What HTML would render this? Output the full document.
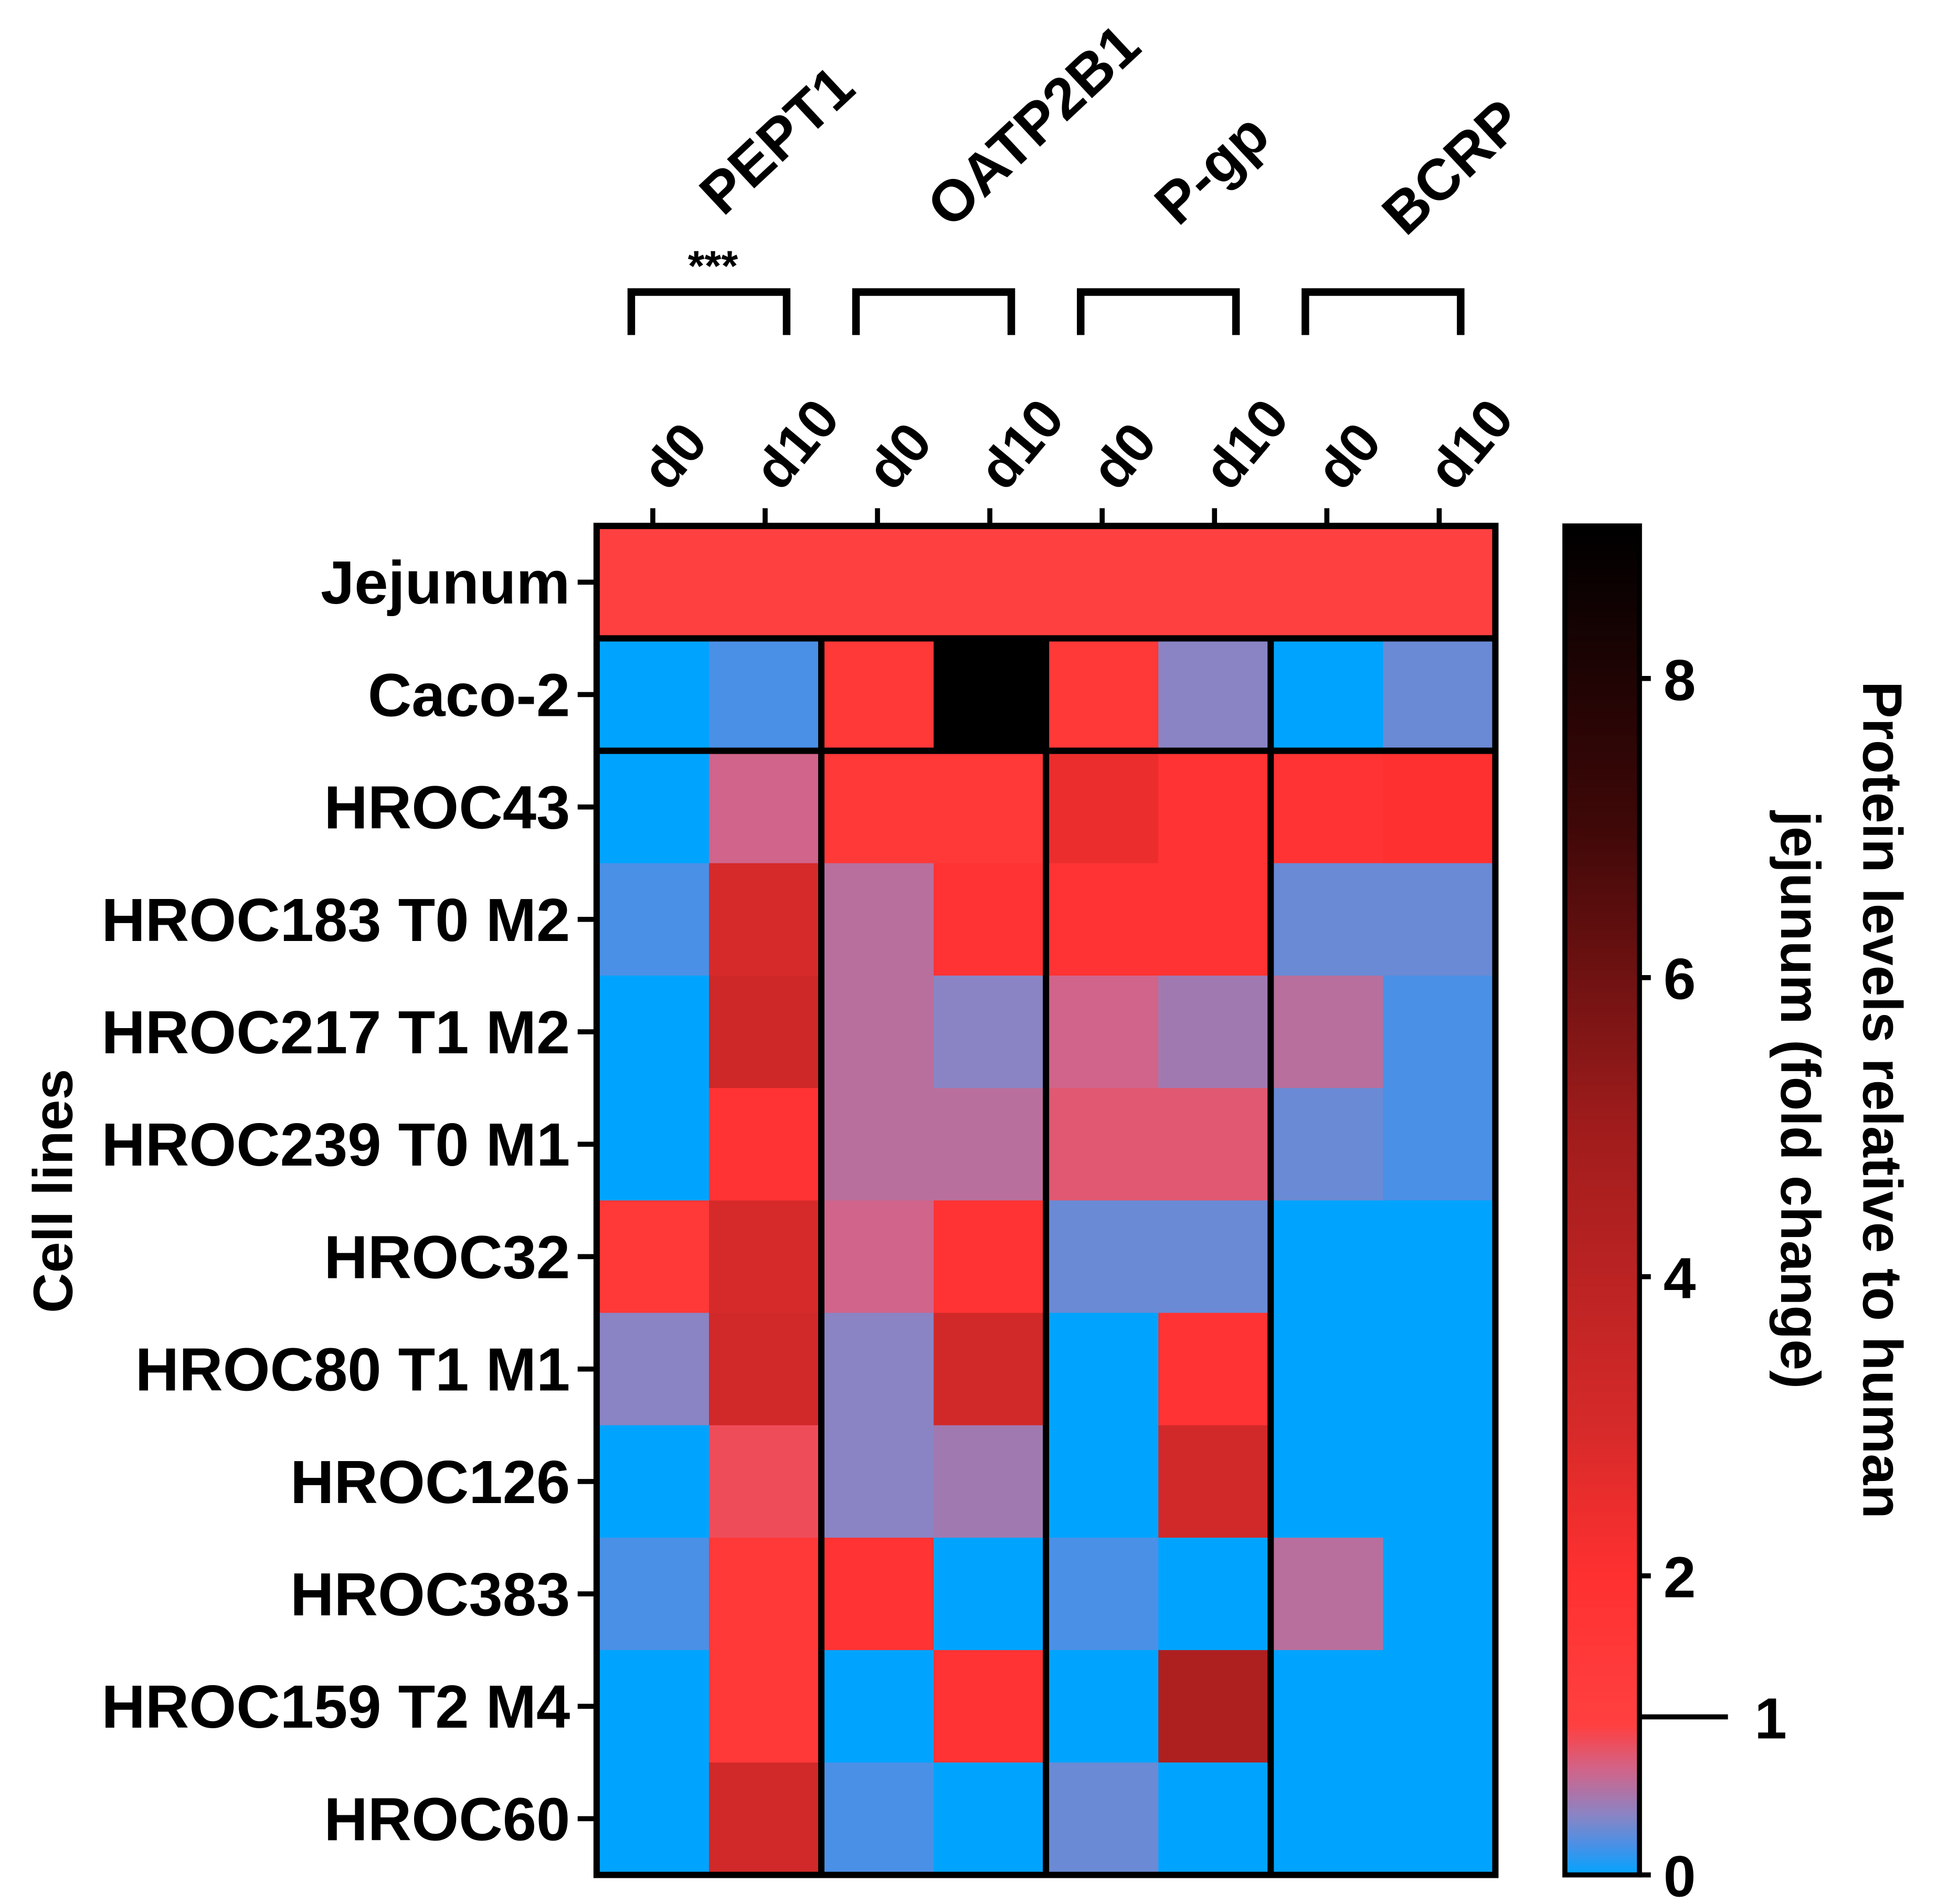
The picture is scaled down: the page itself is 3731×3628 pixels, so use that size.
<!DOCTYPE html>
<html><head><meta charset="utf-8"><style>
html,body{margin:0;padding:0;background:#fff;}
svg{display:block;}
text{font-family:"Liberation Sans",Arial,sans-serif;font-weight:bold;fill:#000;}
</style></head><body>
<svg id="chart" width="3731" height="3628" viewBox="0 0 1549 1506" preserveAspectRatio="none" xmlns="http://www.w3.org/2000/svg">
<g id="cells"></g>
<g id="grid"></g>
<g id="labels"></g>
<g id="cbar"></g>
<text transform="translate(57,942) rotate(-90)" text-anchor="middle" font-size="44">Cell lines</text>
<text transform="translate(1474,870) rotate(90)" text-anchor="middle" font-size="44">Protein levels relative to human</text>
<text transform="translate(1409,870) rotate(90)" text-anchor="middle" font-size="44">jejunum (fold change)</text>
<text x="564" y="222" text-anchor="middle" font-size="34" font-weight="normal">***</text>
</svg>
<script>
const rowLabels = ["Jejunum","Caco-2","HROC43","HROC183 T0 M2","HROC217 T1 M2","HROC239 T0 M1","HROC32","HROC80 T1 M1","HROC126","HROC383","HROC159 T2 M4","HROC60"];
const colLabels = ["d0","d10","d0","d10","d0","d10","d0","d10"];
const genes = ["PEPT1","OATP2B1","P-gp","BCRP"];
const cbTicks = [0,2,4,6,8];
const rowJejunum = [1,1,1,1,1,1,1,1];
const rowCaco2   = [0,0.2,1.5,9,1.5,0.4,0,0.3];
const rowHROC43  = [0,0.7,1.5,1.5,2.5,1.8,1.8,2.0];
const rowHROC183 = [0.2,3,0.6,1.8,1.8,1.8,0.3,0.3];
const rowHROC217 = [0,3.3,0.6,0.4,0.7,0.5,0.6,0.2];
const rowHROC239 = [0,1.8,0.6,0.6,0.8,0.8,0.3,0.2];
const rowHROC32  = [1.5,3,0.7,1.8,0.3,0.3,0,0];
const rowHROC80  = [0.4,3.2,0.4,3.2,0,1.8,0,0];
const rowHROC126 = [0,0.9,0.4,0.5,0,3.2,0,0];
const rowHROC383 = [0.2,1.5,1.8,0,0.2,0,0.6,0];
const rowHROC159 = [0,1.5,0,1.8,0,4.5,0,0];
const rowHROC60  = [0,3.2,0.2,0,0.3,0,0,0];
const values = [rowJejunum,rowCaco2,rowHROC43,rowHROC183,rowHROC217,rowHROC239,rowHROC32,rowHROC80,rowHROC126,rowHROC383,rowHROC159,rowHROC60];

const NS="http://www.w3.org/2000/svg";
const X0=472,X1=1183,Y0=416,Y1=1483;
const cw=(X1-X0)/colLabels.length, rh=(Y1-Y0)/rowLabels.length;
const xs=i=>X0+i*cw, ys=j=>Y0+j*rh;
const CB0=1483,CB1=416,CBMAX=9.02;
const cy=v=>CB0-(CB0-CB1)*v/CBMAX;
const stops=[[0,[0,164,255]],[0.2,[74,144,230]],[0.4,[138,132,196]],[0.7,[208,100,138]],[1,[255,64,64]],[2,[255,48,48]],[3,[214,42,42]],[5,[160,28,28]],[7,[64,8,8]],[9,[0,0,0]]];
function color(v){
  if(v<=stops[0][0])return `rgb(${stops[0][1]})`;
  for(let k=1;k<stops.length;k++){if(v<=stops[k][0]){const a=stops[k-1],b=stops[k],t=(v-a[0])/(b[0]-a[0]);
    return `rgb(${a[1].map((c,i)=>Math.round(c+(b[1][i]-c)*t)).join(",")})`;}}
  return "rgb(0,0,0)";
}
function mk(tag,attrs,parent){const e=document.createElementNS(NS,tag);for(const k in attrs)e.setAttribute(k,attrs[k]);parent.appendChild(e);return e;}
const cells=document.getElementById("cells"),grid=document.getElementById("grid"),labels=document.getElementById("labels"),cbar=document.getElementById("cbar");
values.forEach((row,j)=>row.forEach((v,i)=>{
  const r=mk("rect",{x:xs(i),y:ys(j),width:cw+0.6,height:rh+0.6,fill:color(v)},cells);
  
  
}));
let f=mk("rect",{x:X0,y:Y0,width:X1-X0,height:Y1-Y0,fill:"none",stroke:"#000","stroke-width":5},grid);

[1,2].forEach(j=>{const l=mk("line",{x1:X0,x2:X1,y1:ys(j),y2:ys(j),stroke:"#000","stroke-width":5},grid);
  });
[2,4,6].forEach(i=>{const l=mk("line",{x1:xs(i),x2:xs(i),y1:ys(1),y2:Y1,stroke:"#000","stroke-width":5},grid);
  });
rowLabels.forEach((s,j)=>{const yc=ys(j)+rh/2;
  const t=mk("line",{x1:457,x2:X0,y1:yc,y2:yc,stroke:"#000","stroke-width":4},labels);
  
  const tx=mk("text",{x:451,y:yc+17,"text-anchor":"end","font-size":48},labels);tx.textContent=s;
  });
colLabels.forEach((s,i)=>{const xc=xs(i)+cw/2;
  const t=mk("line",{x1:xc,x2:xc,y1:402,y2:Y0,stroke:"#000","stroke-width":4},labels);
  
  const tx=mk("text",{transform:`translate(${xc+12},${390}) rotate(-50)`,"font-size":44},labels);tx.textContent=s;
  });
const gx=[572,752,932,1112];
genes.forEach((g,k)=>{const a=xs(2*k)+cw/2-17,b=xs(2*k+1)+cw/2+17;
  const p=mk("path",{d:`M${a},265 V231 H${b} V265`,fill:"none",stroke:"#000","stroke-width":6},labels);
  
  const tx=mk("text",{transform:`translate(${gx[k]},${[172,182,180,188][k]}) rotate(-43)`,"font-size":46},labels);tx.textContent=g;
  });
for(let y=CB1;y<CB0;y+=2){const v=(CB0-y-1)/(CB0-CB1)*CBMAX;
  const r=mk("rect",{x:1238,y:y,width:59,height:2.6,fill:color(v)},cbar);
  }
const cbb=mk("rect",{x:1238,y:CB1,width:59,height:CB0-CB1,fill:"none",stroke:"#000","stroke-width":4},cbar);

cbTicks.forEach(v=>{const y=cy(v);
  const t=mk("line",{x1:1297,x2:1306,y1:y,y2:y,stroke:"#000","stroke-width":4},cbar);
  
  const tx=mk("text",{x:1316,y:y+17,"font-size":46},cbar);tx.textContent=v;
  });
const one=mk("line",{x1:1297,x2:1367,y1:1358,y2:1358,stroke:"#000","stroke-width":4},cbar);

const onet=mk("text",{x:1388,y:1375,"font-size":46},cbar);onet.textContent="1";

</script>
</body></html>
